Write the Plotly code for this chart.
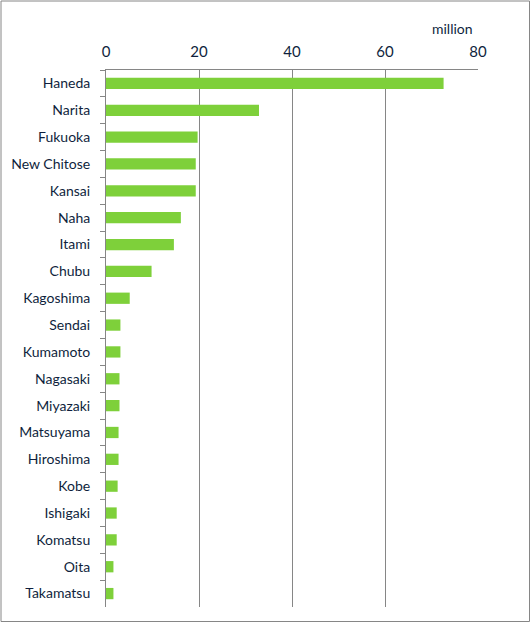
import plotly.graph_objects as go

airports = ["Haneda", "Narita", "Fukuoka", "New Chitose", "Kansai", "Naha", "Itami",
            "Chubu", "Kagoshima", "Sendai", "Kumamoto", "Nagasaki", "Miyazaki",
            "Matsuyama", "Hiroshima", "Kobe", "Ishigaki", "Komatsu", "Oita", "Takamatsu"]
passengers = [72.6, 32.9, 19.7, 19.3, 19.3, 16.1, 14.6,
              9.8, 5.1, 3.1, 3.1, 2.9, 2.9,
              2.7, 2.7, 2.5, 2.3, 2.3, 1.6, 1.6]
x_ticks = [0, 20, 40, 60, 80]

W, H = 531, 623
L, R, T, B = 106, 478, 70, 607

fig = go.Figure(go.Bar(
    x=passengers, y=airports, orientation="h",
    marker=dict(color="#7ed03a", line=dict(width=0)),
    width=0.42,
))

font = dict(family="Lato, Open Sans, sans-serif", size=15, color="#0f1f3d")
yfont = dict(family="Lato, Open Sans, sans-serif", size=14, color="#0f1f3d")

fig.update_layout(
    width=W, height=H,
    margin=dict(l=L, r=W - R, t=T, b=H - B, pad=0, autoexpand=False),
    paper_bgcolor="white", plot_bgcolor="white",
    showlegend=False,
    font=font,
    xaxis=dict(
        side="top", range=[0, 80], tickvals=x_ticks, ticktext=[str(v) for v in x_ticks],
        showgrid=True, gridcolor="#868686", gridwidth=1,
        showline=True, linecolor="#868686", linewidth=1,
        ticks="", ticklabelstandoff=6, automargin=False,
        zeroline=False, tickfont=font,
    ),
    yaxis=dict(
        autorange="reversed", type="category",
        showline=True, linecolor="#868686", linewidth=1,
        ticks="outside", ticklen=5, tickcolor="#868686", tickwidth=1,
        tickson="boundaries", showgrid=False, automargin=False,
        ticklabelstandoff=12, tickfont=yfont,
    ),
    annotations=[dict(
        text="million", xref="paper", yref="paper",
        x=(452 - L) / (R - L), y=(B - 29) / (B - T),
        showarrow=False, xanchor="center", yanchor="middle",
        font=yfont,
    )],
    shapes=[dict(
        type="rect", xref="paper", yref="paper",
        x0=(1 - L) / (R - L), x1=(529.5 - L) / (R - L),
        y0=(B - 621.5) / (B - T), y1=(B - 1) / (B - T),
        line=dict(color="#868686", width=1), fillcolor="rgba(0,0,0,0)",
        layer="below",
    )],
)

fig.write_html("out.html", config={"displayModeBar": False},
               post_script="document.body.style.margin='0';document.body.style.overflow='hidden';")
